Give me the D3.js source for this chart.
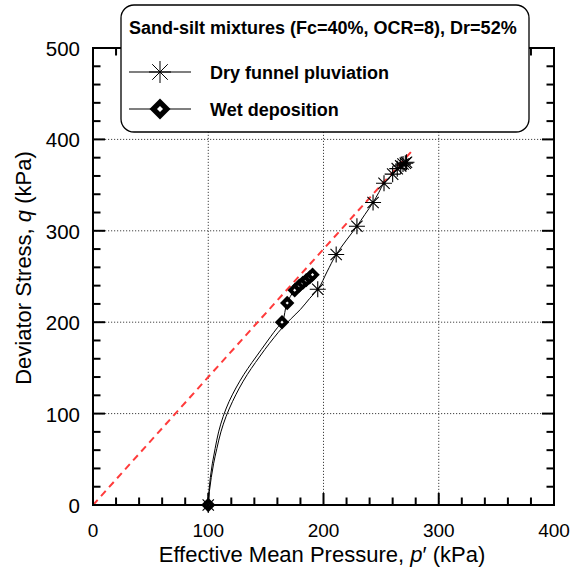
<!DOCTYPE html>
<html>
<head>
<meta charset="utf-8">
<script src="https://cdn.jsdelivr.net/npm/d3@7"></script>
<style>
  html, body { margin: 0; padding: 0; background: #fff; }
  svg { display: block; font-family: "Liberation Sans", Arial, sans-serif; }
</style>
</head>
<body>
<svg id="chart" width="586" height="572"></svg>
<script>
// Stress path, p' (kPa)
const dryLineP = [100, 101, 102.6, 104.6, 107.5, 111, 115.5, 121, 127, 134, 141, 149, 157, 165, 172, 180, 188, 195, 203, 211, 220, 229, 236, 243, 248, 252.5, 257, 261, 265, 268, 270, 272];
// Stress path, q (kPa)
const dryLineQ = [0, 15, 30, 45, 62, 80, 97, 113, 128, 143, 156, 170, 183, 195, 204, 214, 226, 236, 255, 274, 290, 305, 318, 331, 342, 352, 358, 363, 368, 372, 374, 375];
const dryMarkP = [100, 195, 211, 229, 243, 252.5, 260, 264, 267, 269, 271, 272];
const dryMarkQ = [0, 236, 274, 305, 331, 352, 362, 368, 371, 373, 374, 375];

const wetLineP = [100, 100.6, 101.8, 103.5, 106, 109, 113, 118, 124, 131, 138, 146, 154, 160, 164, 168.5, 175, 179, 182, 185, 188, 191];
const wetLineQ = [0, 15, 30, 45, 62, 80, 97, 113, 128, 143, 156, 170, 184, 194, 200, 221, 235, 240, 243, 246, 249, 252];
const wetMarkP = [100, 164, 168.5, 175, 179, 182, 185, 188, 190.5];
const wetMarkQ = [0, 200, 221, 235, 240, 243, 246, 249, 252];

// Critical state line q = M p'
const csM = 1.4;
const csLineP = [0, 277];

const xTicks = [0, 100, 200, 300, 400];
const yTicks = [0, 100, 200, 300, 400, 500];
const legendTitle = "Sand-silt mixtures (Fc=40%, OCR=8), Dr=52%";
const seriesNames = ["Dry funnel pluviation", "Wet deposition"];

const svg = d3.select("#chart");
const x = d3.scaleLinear().domain([0, 400]).range([93, 554]);
const y = d3.scaleLinear().domain([0, 500]).range([505, 48]);
const [x0, x1] = x.range();
const [y0, y1] = y.range();

// grid
const grid = svg.append("g").attr("stroke", "#444").attr("stroke-width", 1).attr("stroke-dasharray", "1.2,1.8");
grid.selectAll(".gx").data(xTicks.filter(d => d > 0 && d < 400)).join("line")
  .attr("x1", d => x(d)).attr("x2", d => x(d)).attr("y1", y0).attr("y2", y1);
grid.selectAll(".gy").data(yTicks.filter(d => d > 0 && d < 500)).join("line")
  .attr("y1", d => y(d)).attr("y2", d => y(d)).attr("x1", x0).attr("x2", x1);

// critical state line
svg.append("line")
  .attr("x1", x(csLineP[0])).attr("y1", y(csM * csLineP[0]))
  .attr("x2", x(csLineP[1])).attr("y2", y(csM * csLineP[1]))
  .attr("stroke", "#ff3b3b").attr("stroke-width", 2).attr("stroke-dasharray", "7,5");

// ticks (inward, all four sides)
const minorX = d3.range(0, 401, 20);
const minorY = d3.range(0, 501, 20);
const tk = svg.append("g").attr("stroke", "#000").attr("stroke-width", 2);
const len = d => (d % 100 === 0 ? 12 : 7.5);
tk.selectAll(".tb").data(minorX).join("line")
  .attr("x1", d => x(d)).attr("x2", d => x(d)).attr("y1", y0).attr("y2", d => y0 - len(d));
tk.selectAll(".tt").data(minorX).join("line")
  .attr("x1", d => x(d)).attr("x2", d => x(d)).attr("y1", y1).attr("y2", d => y1 + len(d));
tk.selectAll(".tl").data(minorY).join("line")
  .attr("y1", d => y(d)).attr("y2", d => y(d)).attr("x1", x0).attr("x2", d => x0 + len(d));
tk.selectAll(".tr").data(minorY).join("line")
  .attr("y1", d => y(d)).attr("y2", d => y(d)).attr("x1", x1).attr("x2", d => x1 - len(d));

// frame
svg.append("rect").attr("x", x0).attr("y", y1).attr("width", x1 - x0).attr("height", y0 - y1)
  .attr("fill", "none").attr("stroke", "#000").attr("stroke-width", 2);

// tick labels
svg.append("g").selectAll("text").data(xTicks).join("text")
  .attr("x", d => x(d)).attr("y", 537).attr("text-anchor", "middle")
  .attr("font-size", 19).text(d => d);
svg.append("g").selectAll("text").data(yTicks).join("text")
  .attr("x", 80).attr("y", d => y(d) + 8).attr("text-anchor", "end")
  .attr("font-size", 20.5).text(d => d);

// axis titles
const xt = svg.append("text").attr("x", 322).attr("y", 562).attr("text-anchor", "middle").attr("font-size", 22);
xt.append("tspan").text("Effective Mean Pressure, ");
xt.append("tspan").attr("font-style", "italic").text("p");
xt.append("tspan").text("\u2032 (kPa)");
const yt = svg.append("text").attr("transform", "translate(31,268) rotate(-90)").attr("text-anchor", "middle").attr("font-size", 22);
yt.append("tspan").text("Deviator Stress, ");
yt.append("tspan").attr("font-style", "italic").text("q");
yt.append("tspan").text(" (kPa)");

// stress paths
const line = d3.line().x(d => x(d[0])).y(d => y(d[1])).curve(d3.curveMonotoneY);
svg.append("path").datum(d3.zip(dryLineP, dryLineQ)).attr("d", line)
  .attr("fill", "none").attr("stroke", "#000").attr("stroke-width", 1);
svg.append("path").datum(d3.zip(wetLineP, wetLineQ)).attr("d", line)
  .attr("fill", "none").attr("stroke", "#000").attr("stroke-width", 1);

// markers
function star(g, r, w) {
  const a = r * Math.SQRT1_2;
  g.append("path").attr("d", `M${-r},0H${r}M0,${-r}V${r}M${-a},${-a}L${a},${a}M${-a},${a}L${a},${-a}`)
    .attr("stroke", "#000").attr("stroke-width", w).attr("fill", "none");
}
function diamond(g, r, inner) {
  g.append("path").attr("d", `M0,${-r}L${r},0L0,${r}L${-r},0Z`).attr("fill", "#000");
  g.append("path").attr("d", `M0,${-inner}L${inner},0L0,${inner}L${-inner},0Z`).attr("fill", "#fff");
}
d3.zip(wetMarkP, wetMarkQ).forEach(([p, q]) => {
  diamond(svg.append("g").attr("transform", `translate(${x(p)},${y(q)})`), 7.2, 1.6);
});
d3.zip(dryMarkP, dryMarkQ).forEach(([p, q]) => {
  star(svg.append("g").attr("transform", `translate(${x(p)},${y(q)})`), 8, 1.1);
});

// legend
const lg = svg.append("g");
lg.append("rect").attr("x", 121).attr("y", 5).attr("width", 408).attr("height", 127)
  .attr("rx", 13).attr("fill", "#fff").attr("stroke", "#000").attr("stroke-width", 1.3);
lg.append("text").attr("x", 129).attr("y", 34).attr("font-size", 18).attr("font-weight", "bold").text(legendTitle);
const rows = [{ cy: 72, ty: 79 }, { cy: 109, ty: 116 }];
rows.forEach((r, i) => {
  lg.append("line").attr("x1", 129).attr("x2", 191).attr("y1", r.cy).attr("y2", r.cy)
    .attr("stroke", "#555").attr("stroke-width", 1.5);
  const g = lg.append("g").attr("transform", `translate(160,${r.cy})`);
  if (i === 0) star(g, 11, 1); else diamond(g, 10.5, 3);
  lg.append("text").attr("x", 210).attr("y", r.ty).attr("font-size", 18).attr("font-weight", "bold").text(seriesNames[i]);
});
</script>
</body>
</html>
